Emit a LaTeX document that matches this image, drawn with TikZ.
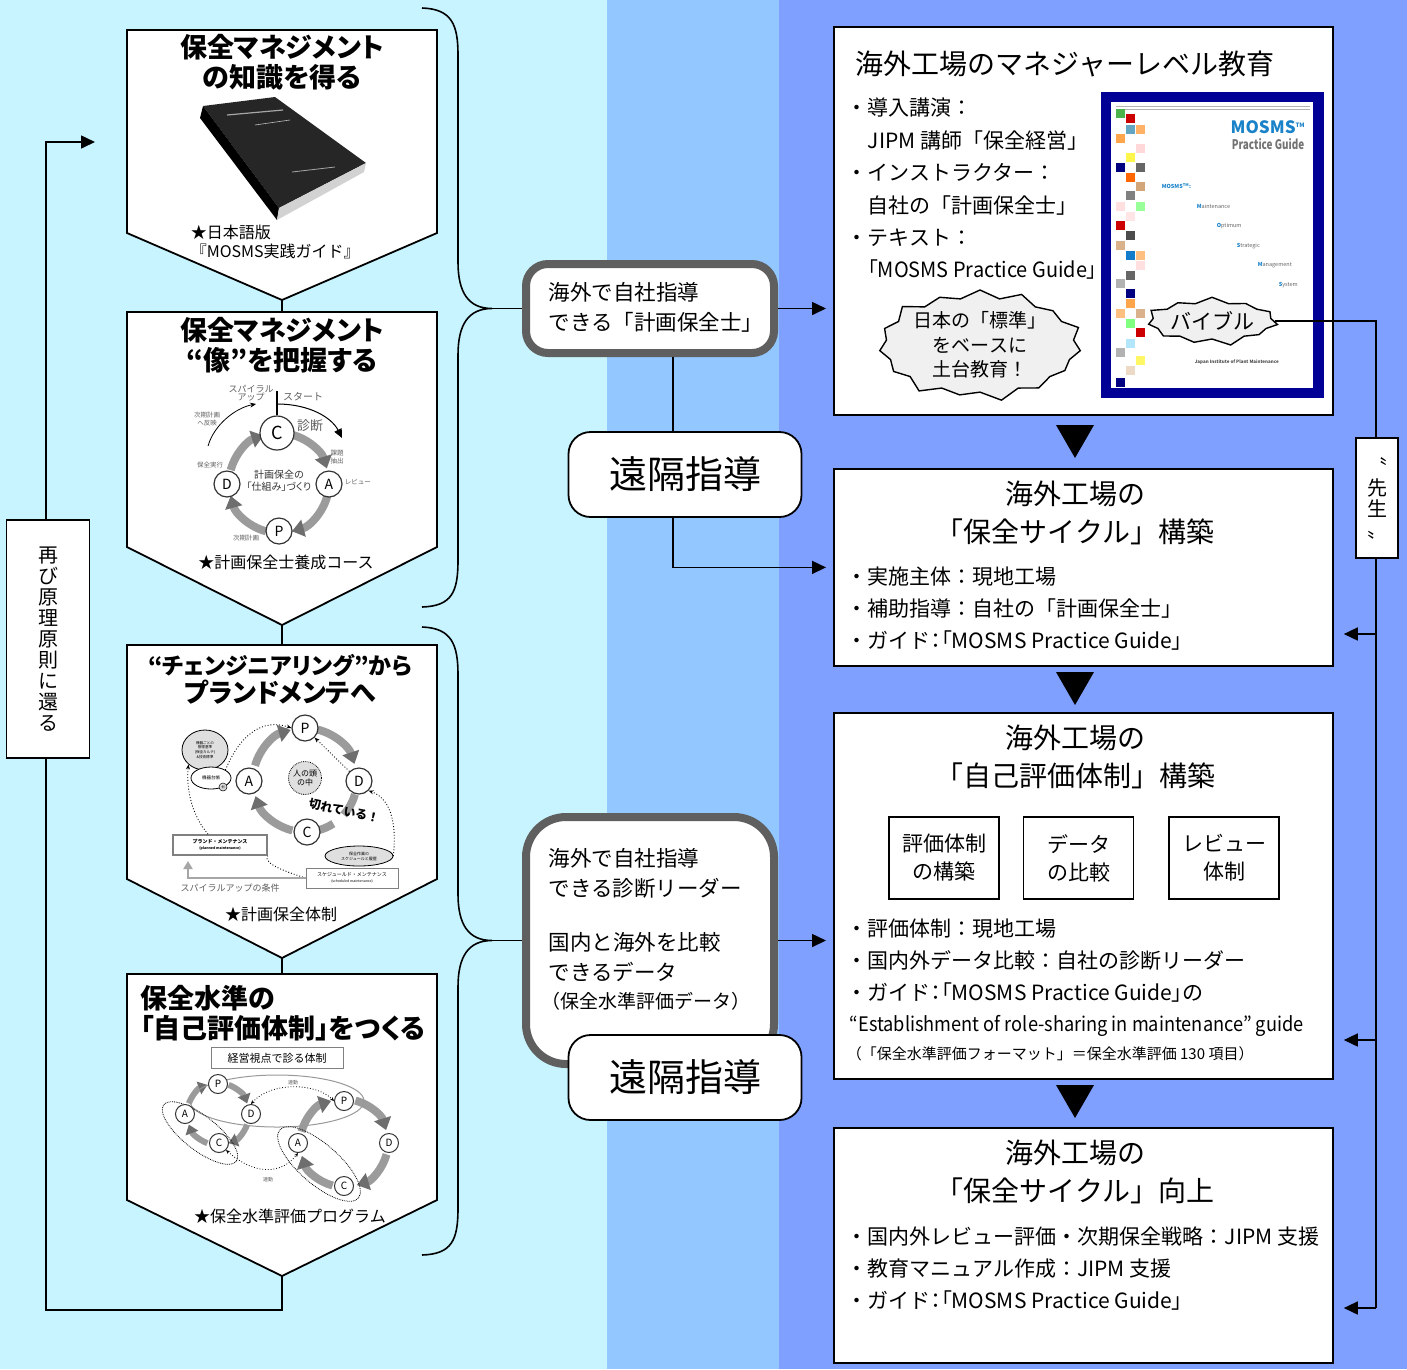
\documentclass[tikz,border=0pt]{standalone}
\usepackage{fontspec}
\usepackage{graphicx}
\setmainfont{Noto Sans CJK JP}
\newfontfamily\ttlfont{Noto Sans CJK JP}[RawFeature=+palt]
\usetikzlibrary{arrows, arrows.meta, positioning, shapes.geometric, shapes.symbols}
\definecolor{band1}{RGB}{200,244,255}
\definecolor{band2}{RGB}{146,200,255}
\definecolor{band3}{RGB}{128,160,255}
\definecolor{frame1}{RGB}{95,95,95}
\definecolor{navy1}{RGB}{0,0,150}
\definecolor{ring1}{RGB}{155,155,155}
\definecolor{ringtip1}{RGB}{110,110,110}
\definecolor{mosblue}{RGB}{25,130,200}
\definecolor{lbl1}{RGB}{95,95,95}

\begin{document}
\begin{tikzpicture}[x=1pt,y=-1pt,line width=1.6pt,
                    >={Triangle[length=14pt,width=13pt]}]
  \tikzstyle{pent}=[draw,fill=white,line width=1.8pt]
  \tikzstyle{ttl}=[align=center,font=\ttlfont\bfseries\fontsize{27}{30}\selectfont]
  \tikzstyle{capt}=[font=\fontsize{16}{19}\selectfont]
  \tikzstyle{midbox}=[draw=frame1,fill=white,line width=8pt,rounded corners=22pt,
                      minimum width=248pt,minimum height=89pt]
  \tikzstyle{midtext}=[anchor=west,align=left,inner sep=0pt,font=\fontsize{21.5}{30}\selectfont]
  \tikzstyle{remote}=[draw,fill=white,line width=1.8pt,rounded corners=22pt,
                      minimum width=233pt,minimum height=85pt,font=\fontsize{38}{38}\selectfont]
  \tikzstyle{rbox}=[draw,fill=white,line width=1.8pt,anchor=north west,minimum width=499pt]
  \tikzstyle{rtitle}=[align=center,font=\fontsize{28}{38}\selectfont]
  \tikzstyle{bul}=[anchor=west,align=left,inner sep=0pt,font=\fontsize{21}{32}\selectfont]
  \tikzstyle{subbox}=[draw,line width=1.8pt,minimum width=110pt,minimum height=82pt,align=center,
                      font=\fontsize{21}{28}\selectfont]
  \tikzstyle{vbox}=[draw,fill=white,line width=1.8pt,align=center,inner sep=0pt]
  \tikzstyle{burst}=[starburst,starburst points=15,starburst point height=11pt,
                     draw,fill=gray!12,line width=1.4pt,align=center,inner sep=0pt]
  \tikzstyle{pdca}=[circle,draw=black!80,fill=white,line width=1.2pt,inner sep=0pt,
                    minimum size=26pt,font=\fontsize{14}{14}\selectfont]
  \tikzstyle{pdcas}=[pdca,minimum size=19pt,line width=1pt,font=\fontsize{10}{10}\selectfont]
  \tikzstyle{ringarc}=[draw=ring1,line width=8pt,-{Triangle[length=12pt,width=17pt,color=ringtip1]}]
  \tikzstyle{ringbare}=[draw=ring1,line width=8pt]
  \tikzstyle{lbl}=[text=lbl1,align=center,inner sep=0pt,font=\fontsize{6.5}{7.5}\selectfont]
  \tikzstyle{dotarrow}=[dotted,line width=0.9pt,->,>={Stealth[length=5pt,width=4pt]}]
  \tikzstyle{dotlink}=[dotted,line width=0.8pt,<->,>={Stealth[length=4pt,width=3.5pt]}]

  % background bands
  \fill[band1] (0,0) rectangle (607,1369);
  \fill[band2] (607,0) rectangle (779,1369);
  \fill[band3] (779,0) rectangle (1407,1369);
  \useasboundingbox (0,0) rectangle (1407,1369);

  % left column
  \draw[pent] (127,30) -- (437,30) -- (437,233) -- (282,300) -- (127,233) -- cycle;
  \draw[pent] (127,312) -- (437,312) -- (437,547) -- (282,625) -- (127,547) -- cycle;
  \draw[pent] (127,645) -- (437,645) -- (437,879) -- (282,958) -- (127,879) -- cycle;
  \draw[pent] (127,974) -- (437,974) -- (437,1200) -- (282,1276) -- (127,1200) -- cycle;
  \coordinate (tip1) at (282,300);  \coordinate (top2) at (282,312);
  \coordinate (tip2) at (282,625);  \coordinate (top3) at (282,645);
  \coordinate (tip3) at (282,958);  \coordinate (top4) at (282,974);
  \coordinate (tip4) at (282,1276);
  \coordinate (loopc) at (46,1310);
  \coordinate (loopend) at (95,142);
  \draw (tip1) -- (top2);
  \draw (tip2) -- (top3);
  \draw (tip3) -- (top4);
  \draw[->] (tip4) |- (loopc) |- (loopend);
  \node[vbox,minimum width=83pt,minimum height=238pt,font=\fontsize{20}{21}\selectfont]
       (back) at (48,639) {再\\び\\原\\理\\原\\則\\に\\還\\る};

  \node[ttl] (know)  at (282,62)  {保全マネジメント\\の知識を得る};
  \node[ttl] (image) at (282,345) {保全マネジメント\\“像”を把握する};
  \node[ttl,font=\ttlfont\bfseries\fontsize{23}{28}\selectfont] (plan) at (280,679) {“チェンジニアリング”から\\{\fontsize{26}{28}\selectfont プランドメンテへ}};
  \node[ttl,align=left,anchor=west] (level) at (136,1013) {保全水準の\\「自己評価体制」をつくる};

  % book
  \fill[black!85] (203,106) -- (275,97) -- (366,163) -- (279,208) -- cycle;
  \fill[black] (203,106) -- (200,118) -- (277,220) -- (279,208) -- cycle;
  \fill[gray!35] (279,208) -- (366,163) -- (364,172) -- (277,220) -- cycle;
  \draw[gray!70,line width=1.2pt] (227,115) -- (283,110);
  \draw[gray!50,line width=0.6pt] (255,125) -- (290,120);
  \draw[gray!70,line width=0.8pt] (292,172) -- (335,167);
  \node[capt,anchor=west,align=left,inner sep=0pt] (jpn) at (190,242) {★日本語版\\『MOSMS実践ガイド』};

  % cycle of box 2
  \coordinate (ring2) at (279,483);
  \foreach \a/\b in {285/343,15/75,105/165,195/252}
    \draw[ringarc] ([shift={(\a:50)}]ring2) arc[start angle=\a,end angle=\b,radius=50];
  \node[pdca,minimum size=34pt,font=\fontsize{18}{18}\selectfont] (C2) at (277,433) {C};
  \node[pdca] (A2) at (329,484) {A};
  \node[pdca] (P2) at (279,531) {P};
  \node[pdca] (D2) at (227,484) {D};
  \node[lbl,text=black!80,font=\ttlfont\fontsize{10}{12}\selectfont] (mech) at (279,481) {計画保全の\\「仕組み」づくり};
  \node[lbl,font=\fontsize{13}{13}\selectfont] (diag) at (310,426) {診断};
  \node[lbl,font=\fontsize{10}{10}\selectfont] (start) at (303,397) {スタート};
  \node[lbl,font=\fontsize{9}{8.5}\selectfont] (spiral) at (251,393) {スパイラル\\アップ};
  \node[lbl] (refl)  at (207,419) {次期計画\\へ反映};
  \node[lbl] (issue) at (337,457) {課題\\抽出};
  \node[lbl,anchor=west] (rev) at (344,482) {レビュー};
  \node[lbl] (exec)  at (210,465) {保全実行};
  \node[lbl] (next)  at (246,538) {次期計画};
  \coordinate (st0) at (277,391);
  \coordinate (st1) at (277,404);
  \coordinate (st2) at (342,438);
  \coordinate (sp1) at (208,446);
  \coordinate (sp2) at (256,404);
  \draw[line width=1.8pt] (st0) -- (C2.north);
  \draw[->,>={Triangle[length=9pt,width=8pt]},line width=1pt] (st1) .. controls (310,404) and (332,418) .. (st2);
  \draw[->,>={Stealth[length=6pt,width=5pt]},line width=0.8pt] (sp1) .. controls (214,425) and (235,408) .. (sp2);
  \node[capt] (course) at (286,562) {★計画保全士養成コース};

  % cycle of box 3
  \coordinate (ring3) at (305,780);
  \foreach \a/\b in {196/254,284/342,104/162}
    \draw[ringarc] ([shift={(\a:52)}]ring3) arc[start angle=\a,end angle=\b,radius=52];
  \draw[ringbare] ([shift={(16:52)}]ring3) arc[start angle=16,end angle=42,radius=52];
  \draw[ringbare] ([shift={(57:52)}]ring3) arc[start angle=57,end angle=76,radius=52];
  \node[pdca] (P3) at (305,728) {P};
  \node[pdca] (D3) at (359,781) {D};
  \node[pdca] (C3) at (307,832) {C};
  \node[pdca] (A3) at (249,781) {A};
  \node[circle,densely dotted,draw,fill=gray!25,line width=0.8pt,minimum size=33pt,inner sep=0pt,
        align=center,font=\fontsize{8}{9}\selectfont] (head) at (305,778) {人の頭\\の中};
  \node[rotate=-12,inner sep=0pt,font=\bfseries\fontsize{12}{12}\selectfont] (cut) at (344,811) {切れている！};
  \node[ellipse,draw,fill=gray!25,line width=0.8pt,minimum width=46pt,minimum height=40pt,inner sep=0pt,
        align=center,font=\fontsize{3.6}{4.8}\selectfont] (karte) at (205,750) {機器ごとの\\管理基準\\(保全カルテ)\\\&技術標準};
  \node[ellipse,draw,fill=white,line width=0.8pt,minimum width=40pt,minimum height=22pt,inner sep=0pt,
        font=\fontsize{4.5}{5}\selectfont] (daicho) at (211,778) {機器台帳};
  \node[circle,draw,fill=gray!30,line width=0.5pt,minimum size=8pt,inner sep=0pt,
        font=\fontsize{3}{3}\selectfont] (rei) at (223,787) {例};
  \node[draw=gray,line width=1.6pt,fill=white,minimum width=94pt,minimum height=20pt,inner sep=1pt,align=center,
        font=\bfseries\fontsize{5}{6}\selectfont] (planned) at (220,845) {プランド・メンテナンス\\{\fontsize{3.5}{4}\selectfont (planned maintenance)}};
  \node[ellipse,draw,fill=gray!25,line width=0.8pt,minimum width=68pt,minimum height=20pt,inner sep=0pt,align=center,
        font=\fontsize{4}{5}\selectfont] (hist) at (359,856) {保全作業の\\スケジュールと履歴};
  \node[draw=gray,line width=0.8pt,fill=white,minimum width=92pt,minimum height=20pt,inner sep=1pt,align=center,
        font=\fontsize{5}{6}\selectfont] (sched) at (352,878) {スケジュールド・メンテナンス\\{\fontsize{3.5}{4}\selectfont (scheduled maintenance)}};
  \coordinate (sp) at (188,861);
  \draw[dotarrow] (daicho.north east) .. controls (240,735) and (262,718) .. (P3.west);
  \draw[dotarrow] (D3.north west) -- (P3.south east);
  \draw[dotarrow] (hist.east) .. controls (396,830) and (394,800) .. (D3.south east);
  \draw[dotted,line width=0.9pt] (sched.west) .. controls (290,873) and (262,864) .. (planned.south east);
  \draw[dotarrow] ([xshift=-12pt]planned.north) .. controls (192,815) and (186,790) .. (karte.south west);
  \draw[gray!70,line width=2.4pt,-{Triangle[length=8pt,width=9pt]}] (sched.west) -| (sp);
  \node[lbl,font=\fontsize{9}{9}\selectfont] (spcond) at (230,888) {スパイラルアップの条件};
  \node[capt] (system) at (281,914) {★計画保全体制};

  % cycles of box 4
  \node[draw=gray,line width=1pt,fill=white,minimum width=132pt,minimum height=21pt,inner sep=0pt,
        font=\fontsize{11}{11}\selectfont] (keiei) at (277,1058) {経営視点で診る体制};
  \coordinate (ring4a) at (218,1114);
  \coordinate (ring4b) at (344,1143);
  \foreach \a/\b in {290/340,20/70,110/160,200/250}
    \draw[ringarc,line width=6pt,-{Triangle[length=9pt,width=13pt,color=ringtip1]}]
      ([shift={(\a:31)}]ring4a) arc[start angle=\a,end angle=\b,radius=31];
  \foreach \a/\b in {285/343,15/73,105/163,195/253}
    \draw[ringarc] ([shift={(\a:44)}]ring4b) arc[start angle=\a,end angle=\b,radius=44];
  \draw[gray!80,line width=1pt] (277,1101) ellipse[x radius=87,y radius=26];
  \draw[densely dotted,line width=0.8pt,rotate around={-38:(200,1133)}] (200,1133) ellipse[x radius=46,y radius=17];
  \draw[densely dotted,line width=0.8pt,rotate around={-41:(319,1164)}] (319,1164) ellipse[x radius=52,y radius=20];
  \node[pdcas] (P4a) at (218,1084) {P};
  \node[pdcas] (D4a) at (251,1114) {D};
  \node[pdcas] (C4a) at (219,1143) {C};
  \node[pdcas] (A4a) at (185,1114) {A};
  \node[pdcas] (P4b) at (344,1101) {P};
  \node[pdcas] (D4b) at (389,1143) {D};
  \node[pdcas] (C4b) at (344,1186) {C};
  \node[pdcas] (A4b) at (298,1143) {A};
  \draw[dotlink] (D4a.north) .. controls (270,1082) and (315,1082) .. (P4b.west);
  \draw[dotlink] (C4a.south east) .. controls (255,1176) and (282,1174) .. (A4b.south);
  \node[lbl,font=\fontsize{5}{5}\selectfont] (link1) at (293,1083) {連動};
  \node[lbl,font=\fontsize{5}{5}\selectfont] (link2) at (268,1180) {連動};
  \node[capt] (prog) at (290,1216) {★保全水準評価プログラム};

  % braces
  \coordinate (br1) at (492,308.5);
  \coordinate (br2) at (492,940.5);
  \draw (422,8) .. controls (452,9) and (458,25) .. (458,55) -- (458,262)
        .. controls (458,292) and (468,308.5) .. (br1)
        .. controls (468,308.5) and (458,325) .. (458,355) -- (458,560)
        .. controls (458,592) and (452,606) .. (422,607);
  \draw (422,627) .. controls (452,628) and (458,645) .. (458,675) -- (458,894)
        .. controls (458,924) and (468,940.5) .. (br2)
        .. controls (468,940.5) and (458,957) .. (458,987) -- (458,1208)
        .. controls (458,1240) and (452,1254) .. (422,1255);

  % middle column
  \node[midbox] (mb1) at (650,308.5) {};
  \node[midtext] (mb1txt) at (548,307) {海外で自社指導\\できる「計画保全士」};
  \node[remote] (remote1) at (685,474.5) {遠隔指導};
  \node[midbox,rounded corners=40pt,minimum height=247pt] (mb2) at (650,940.5) {};
  \node[midtext] (mb2a) at (548,873) {海外で自社指導\\できる診断リーダー};
  \node[midtext] (mb2b) at (548,957.5) {国内と海外を比較\\できるデータ};
  \node[anchor=west,inner sep=0pt,font=\fontsize{19}{19}\selectfont] (mb2c) at (541,1001) {（保全水準評価データ）};
  \node[remote] (remote2) at (685,1077.5) {遠隔指導};

  % right column
  \node[rbox,minimum height=388pt] (mgr)  at (833,26)   {};
  \node[rbox,minimum height=197pt] (cyc)  at (833,468)  {};
  \node[rbox,minimum height=366pt] (eval) at (833,712)  {};
  \node[rbox,minimum height=235pt] (up)   at (833,1127) {};
  \fill (1056,425) -- (1094,425) -- (1075,458) -- cycle;
  \fill (1056,672) -- (1094,672) -- (1075,705) -- cycle;
  \fill (1056,1085) -- (1094,1085) -- (1075,1118) -- cycle;

  \node[font=\fontsize{28}{28}\selectfont] (mgrt) at (1065,64) {海外工場のマネジャーレベル教育};
  \node[bul,font=\fontsize{21}{32.4}\selectfont] (mgrl) at (846,189)
       {・導入講演：\\　JIPM 講師「保全経営」\\・インストラクター：\\　自社の「計画保全士」\\・テキスト：\\　{\ttlfont\scalebox{0.95}[1]{「MOSMS Practice Guide」}}};
  \node[burst,minimum width=200pt,minimum height=95pt,font=\fontsize{19}{24.5}\selectfont] (std) at (980,345)
       {日本の「標準」\\をベースに\\土台教育！};

  % guide cover
  \fill[navy1] (1101,92) rectangle (1324,398);
  \fill[white] (1111,102) rectangle (1313,388);
  \draw[gray!60,line width=0.8pt] (1116,106) -- (1310,106) (1116,109) -- (1310,109);
  \foreach \x/\y/\c in {1120/113/green!40!gray, 1130/118/red!80!black, 1130/129/cyan!50!gray,
      1140/129/orange!60, 1120/138/orange!70, 1140/148/pink!60, 1130/157/yellow!70,
      1120/167/blue!50!black, 1140/167/black!60, 1130/177/orange!80!red, 1140/186/brown!70,
      1130/195/black!50, 1120/206/pink!50, 1140/206/green!40, 1130/216/pink!40,
      1120/225/red!80!black, 1130/235/black!70, 1120/245/brown!60, 1130/255/cyan!60!blue,
      1140/255/orange!50, 1140/265/pink!50, 1130/275/black!60, 1120/283/black!30,
      1130/293/blue!50!black, 1130/303/orange!70, 1120/313/orange!50, 1140/313/brown!60,
      1130/323/green!50, 1140/332/red!80!black, 1130/343/cyan!30, 1120/352/black!30,
      1140/360/yellow!60, 1130/370/brown!30, 1120/382/blue!50!black}
    \fill[\c] (\x-4.5,\y-4.5) rectangle ++(9,9);
  \node[anchor=east,inner sep=0pt,text=mosblue,font=\bfseries\fontsize{17}{17}\selectfont] (mos) at (1306,127)
       {MOSMS\textsuperscript{\fontsize{6}{6}\selectfont TM}};
  \node[anchor=east,inner sep=0pt,text=black!55,font=\bfseries\fontsize{11}{11}\selectfont] (pg) at (1305,144) {\scalebox{0.9}[1.2]{Practice Guide}};
  \node[anchor=west,inner sep=0pt,text=mosblue,font=\bfseries\fontsize{5.5}{5.5}\selectfont] (w0) at (1161,186) {MOSMS\textsuperscript{TM}:};
  \node[anchor=west,inner sep=0pt,text=black!60,font=\fontsize{5.5}{5.5}\selectfont] (w1) at (1196,206) {\textcolor{mosblue}{\bfseries M}aintenance};
  \node[anchor=west,inner sep=0pt,text=black!60,font=\fontsize{5.5}{5.5}\selectfont] (w2) at (1216,226) {\textcolor{mosblue}{\bfseries O}ptimum};
  \node[anchor=west,inner sep=0pt,text=black!60,font=\fontsize{5.5}{5.5}\selectfont] (w3) at (1236,246) {\textcolor{mosblue}{\bfseries S}trategic};
  \node[anchor=west,inner sep=0pt,text=black!60,font=\fontsize{5.5}{5.5}\selectfont] (w4) at (1257,265) {\textcolor{mosblue}{\bfseries M}anagement};
  \node[anchor=west,inner sep=0pt,text=black!60,font=\fontsize{5.5}{5.5}\selectfont] (w5) at (1278,285) {\textcolor{mosblue}{\bfseries S}ystem};
  \node[anchor=west,inner sep=0pt,text=black!70,font=\bfseries\fontsize{4.5}{4.5}\selectfont] (jipm) at (1194,362) {Japan Institute of Plant Maintenance};
  \node[burst,starburst points=11,starburst point height=8pt,minimum width=98pt,minimum height=52pt,
        font=\fontsize{21}{21}\selectfont] (bible) at (1212,321) {バイブル};

  \node[rtitle] (cyct) at (1075,513) {海外工場の\\「保全サイクル」構築};
  \node[bul] (cycl) at (846,609) {・実施主体：現地工場\\・補助指導：自社の「計画保全士」\\・ガイド{\ttlfont ：「MOSMS Practice Guide」}};

  \node[rtitle] (evalt) at (1075,757) {海外工場の\\「自己評価体制」構築};
  \node[subbox] (s1) at (944,858)    {評価体制\\の構築};
  \node[subbox] (s2) at (1078.5,858) {データ\\の比較};
  \node[subbox] (s3) at (1224,858)   {レビュー\\体制};
  \node[bul] (evall) at (846,961) {・評価体制：現地工場\\・国内外データ比較：自社の診断リーダー\\・ガイド{\ttlfont ：「MOSMS Practice Guide」}の};
  \node[anchor=west,inner sep=0pt,font=\ttlfont\fontsize{20}{20}\selectfont] (evale) at (849,1026)
       {\scalebox{0.91}[1]{“Establishment of role-sharing in maintenance” guide}};
  \node[anchor=west,inner sep=0pt,font=\fontsize{15}{15}\selectfont] (evaln) at (846,1054)
       {（「保全水準評価フォーマット」＝保全水準評価 130 項目）};

  \node[rtitle] (upt) at (1075,1172) {海外工場の\\「保全サイクル」向上};
  \node[bul] (upl) at (846,1269) {・国内外レビュー評価・次期保全戦略：JIPM 支援\\・教育マニュアル作成：JIPM 支援\\・ガイド{\ttlfont ：「MOSMS Practice Guide」}};

  % connectors
  \coordinate (r1) at (673,0);
  \coordinate (k1) at (1376,634);
  \coordinate (k2) at (1376,1040);
  \coordinate (k3) at (1376,1308);
  \draw (br1) -- (mb1.west);
  \draw (br2) -- (mb2.west);
  \draw[->,shorten >=7pt] (mb1.east) -- (mb1.east -| mgr.west);
  \draw (r1 |- mb1.south) -- (r1 |- remote1.north);
  \draw[->,shorten >=7pt] (r1 |- remote1.south) |- (cyc.west);
  \draw[->,shorten >=7pt] (mb2.east) -- (mb2.east -| eval.west);
  \draw (bible.east) -| (k3);
  \draw[->,shorten >=10pt] (k1) -- (k1 -| cyc.east);
  \draw[->,shorten >=10pt] (k2) -- (k2 -| eval.east);
  \draw[->,shorten >=10pt] (k3) -- (k3 -| up.east);
  \node[vbox,minimum width=42pt,minimum height=120pt,font=\fontsize{20}{21}\selectfont] (sensei) at (1377,498) {〝\\先\\生\\〟};
\end{tikzpicture}
\end{document}
